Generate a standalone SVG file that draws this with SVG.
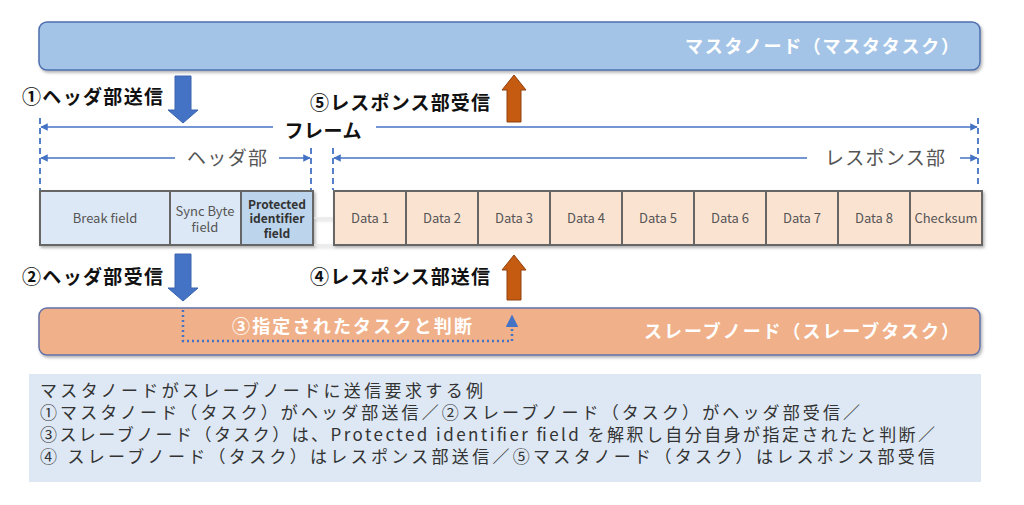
<svg xmlns="http://www.w3.org/2000/svg" width="1024" height="505" viewBox="0 0 1024 505">
<style>
text{font-family:"Noto Sans CJK JP","Noto Sans",sans-serif}
.lbl{font-size:19px;font-weight:bold;fill:#111}
.node{font-size:18px;font-weight:bold;fill:#fff}
.dimt{font-size:19px;fill:#555}
.fld{font-size:13px;fill:#555;text-anchor:middle}
.fldb{font-size:12px;fill:#333;font-weight:bold;text-anchor:middle}
.dim{stroke:#4472c4;stroke-width:1.5;fill:none}
.dash{stroke:#4472c4;stroke-width:1.8;stroke-dasharray:6,4;fill:none}
.cell{stroke:#666;stroke-width:2}
.hb{fill:#dce8f5}
.rb{fill:#fbe3d2}
.note{font-size:17px;fill:#333}
</style>
<defs>
<filter id="sh" x="-5%" y="-20%" width="110%" height="150%">
<feDropShadow dx="1.5" dy="2" stdDeviation="1.5" flood-color="#000" flood-opacity="0.3"/>
</filter>
<marker id="ae" viewBox="0 0 10 10" refX="9" refY="5" markerWidth="5" markerHeight="5" orient="auto">
<path d="M0,0 L10,5 L0,10 z" fill="#4472c4"/>
</marker>
<marker id="as" viewBox="0 0 10 10" refX="1" refY="5" markerWidth="5" markerHeight="5" orient="auto">
<path d="M10,0 L0,5 L10,10 z" fill="#4472c4"/>
</marker>
<marker id="au" viewBox="0 0 10 10" refX="8" refY="5" markerWidth="5" markerHeight="5" orient="auto">
<path d="M0,0 L10,5 L0,10 z" fill="#4472c4"/>
</marker>
</defs>
<rect width="1024" height="505" fill="#fff"/>

<g id="master">
<rect x="39" y="22" width="941" height="48" rx="8" fill="#a3c4e6" stroke="#4f6fae" stroke-width="1.5" filter="url(#sh)"/>
<text class="node" x="959" y="53" text-anchor="end" textLength="274" lengthAdjust="spacing">マスタノード（マスタタスク）</text>
</g>

<g id="slave">
<rect x="39" y="308" width="941" height="47" rx="8" fill="#f0b089" stroke="#6272a8" stroke-width="1.5" filter="url(#sh)"/>
<text class="node" x="959" y="338" text-anchor="end" textLength="315" lengthAdjust="spacing">スレーブノード（スレーブタスク）</text>
</g>

<g id="frame-fields" filter="url(#sh)">
<line x1="313" y1="218" x2="334" y2="218" stroke="#ddd" stroke-width="1"/>
<line x1="313" y1="245" x2="334" y2="245" stroke="#ddd" stroke-width="1"/>
<rect class="cell hb" x="40" y="191" width="130" height="54"/>
<rect class="cell hb" x="170" y="191" width="71" height="54"/>
<rect class="cell" x="241" y="191" width="72" height="54" fill="#bcd4ec"/>
<rect class="cell rb" x="334" y="191" width="72" height="54"/>
<rect class="cell rb" x="406" y="191" width="72" height="54"/>
<rect class="cell rb" x="478" y="191" width="72" height="54"/>
<rect class="cell rb" x="550" y="191" width="72" height="54"/>
<rect class="cell rb" x="622" y="191" width="72" height="54"/>
<rect class="cell rb" x="694" y="191" width="72" height="54"/>
<rect class="cell rb" x="766" y="191" width="72" height="54"/>
<rect class="cell rb" x="838" y="191" width="72" height="54"/>
<rect class="cell rb" x="910" y="191" width="72" height="54"/>
</g>
<g id="field-labels">
<text class="fld" x="105" y="223">Break field</text>
<text class="fld" x="205" y="216">Sync Byte<tspan x="205" y="232">field</tspan></text>
<text class="fldb" x="277" y="209">Protected<tspan x="277" y="223">identifier</tspan><tspan x="277" y="238">field</tspan></text>
<text class="fld" x="370" y="223">Data 1</text>
<text class="fld" x="442" y="223">Data 2</text>
<text class="fld" x="514" y="223">Data 3</text>
<text class="fld" x="586" y="223">Data 4</text>
<text class="fld" x="658" y="223">Data 5</text>
<text class="fld" x="730" y="223">Data 6</text>
<text class="fld" x="802" y="223">Data 7</text>
<text class="fld" x="874" y="223">Data 8</text>
<text class="fld" x="946" y="223">Checksum</text>
</g>

<g id="dimensions">
<line class="dash" x1="40" y1="118" x2="40" y2="190"/>
<line class="dash" x1="311" y1="148" x2="311" y2="190"/>
<line class="dash" x1="333" y1="148" x2="333" y2="190"/>
<line class="dash" x1="978" y1="118" x2="978" y2="186"/>
<line class="dim" x1="41" y1="127" x2="273" y2="127" marker-start="url(#as)"/>
<line class="dim" x1="376" y1="127" x2="977" y2="127" marker-end="url(#ae)"/>
<text class="lbl" x="323" y="138" text-anchor="middle" textLength="77" lengthAdjust="spacing">フレーム</text>
<line class="dim" x1="41" y1="158" x2="175" y2="158" marker-start="url(#as)"/>
<line class="dim" x1="279" y1="158" x2="310" y2="158" marker-end="url(#ae)"/>
<text class="dimt" x="227" y="165" text-anchor="middle" textLength="80" lengthAdjust="spacing">ヘッダ部</text>
<line class="dim" x1="334" y1="158" x2="807" y2="158" marker-start="url(#as)"/>
<line class="dim" x1="960" y1="158" x2="977" y2="158" marker-end="url(#ae)"/>
<text class="dimt" x="885" y="165" text-anchor="middle" textLength="120" lengthAdjust="spacing">レスポンス部</text>
</g>

<g id="arrows">
<polygon points="175,76 191,76 191,110 198,110 183,123 168,110 175,110" fill="#4472c4" stroke="#3b64ad" stroke-width="1"/>
<polygon points="175,254 191,254 191,288 198,288 183,301 168,288 175,288" fill="#4472c4" stroke="#3b64ad" stroke-width="1"/>
<polygon points="514,75 526,90 521,90 521,122 507,122 507,90 502,90" fill="#c55a11" stroke="#8f4210" stroke-width="1"/>
<polygon points="514,255 526,270 521,270 521,300 507,300 507,270 502,270" fill="#c55a11" stroke="#8f4210" stroke-width="1"/>
<path d="M183,310 V341 H512 V317" fill="none" stroke="#4472c4" stroke-width="2.5" stroke-dasharray="2,3" marker-end="url(#au)"/>
</g>

<g id="labels">
<text class="lbl" x="22" y="104" textLength="141" lengthAdjust="spacing">①ヘッダ部送信</text>
<text class="lbl" x="310" y="110" textLength="180" lengthAdjust="spacing">⑤レスポンス部受信</text>
<text class="lbl" x="22" y="284" textLength="141" lengthAdjust="spacing">②ヘッダ部受信</text>
<text class="lbl" x="310" y="284" textLength="180" lengthAdjust="spacing">④レスポンス部送信</text>
<text class="node" x="232" y="333" font-size="19" textLength="240" lengthAdjust="spacing">③指定されたタスクと判断</text>
</g>

<g id="note">
<rect x="29" y="374" width="952" height="108" fill="#dde8f4"/>
<text class="note" x="40" y="397"><tspan x="40" y="397" textLength="443" lengthAdjust="spacing">マスタノードがスレーブノードに送信要求する例</tspan><tspan x="40" y="419" textLength="820" lengthAdjust="spacing">①マスタノード（タスク）がヘッダ部送信／②スレーブノード（タスク）がヘッダ部受信／</tspan><tspan x="40" y="441" textLength="895" lengthAdjust="spacing">③スレーブノード（タスク）は、Protected identifier field を解釈し自分自身が指定されたと判断／</tspan><tspan x="40" y="463" textLength="895" lengthAdjust="spacing">④ スレーブノード（タスク）はレスポンス部送信／⑤マスタノード（タスク）はレスポンス部受信</tspan></text>
</g>
</svg>
